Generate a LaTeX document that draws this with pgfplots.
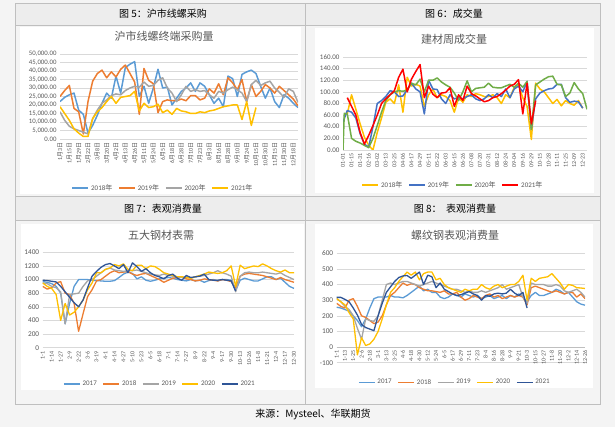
\documentclass[border=0pt]{standalone}
\usepackage{fontspec}
\setmainfont{Carlito}
\newfontfamily\cjk{Noto Sans CJK SC}
\usepackage{pgfplots}
\pgfplotsset{compat=1.18}

\definecolor{bgc}{HTML}{F4F4F4}
\definecolor{hdc}{HTML}{EDEDED}
\definecolor{frc}{HTML}{BFBFBF}
\definecolor{gridc}{HTML}{D9D9D9}
\definecolor{labc}{HTML}{595959}
\definecolor{cblue}{HTML}{5B9BD5}
\definecolor{corange}{HTML}{ED7D31}
\definecolor{cgrey}{HTML}{A5A5A5}
\definecolor{cgold}{HTML}{FFC000}
\definecolor{cblueb}{HTML}{4472C4}
\definecolor{cgreen}{HTML}{70AD47}
\definecolor{cred}{HTML}{FF0000}
\definecolor{cdark}{HTML}{2F5597}

\newcommand\md[2]{#1{\cjk 月}#2{\cjk 日}}

\pgfplotsset{
  exl/.style={
    scale only axis,
    anchor=south west,
    axis line style={draw=none},
    tick style={draw=none},
    scaled ticks=false,
    ymajorgrids,
    grid style={draw=gridc, line width=0.5pt},
    y tick label style={font=\fontsize{7}{8}\selectfont, text=labc},
    x tick label style={font=\fontsize{6}{7}\selectfont, text=labc, rotate=90, anchor=east},
    legend style={draw=none, fill=none, font=\fontsize{7}{8}\selectfont, text=labc,
      legend columns=-1, anchor=center,
      /tikz/every even column/.append style={column sep=4pt}},
    legend image code/.code={\draw[##1] (0pt,0pt) -- (16pt,0pt);},
    every axis plot/.append style={line width=1.3pt, line join=round, mark=none},
  }
}

\begin{document}
\begin{tikzpicture}
\begin{scope}[x=1pt,y=1pt]
% page and frames
\fill[bgc] (0,0) rectangle (615,-427);
\filldraw[fill=hdc, draw=frc, line width=0.6pt] (15,-3) rectangle (305,-25);
\filldraw[fill=hdc, draw=frc, line width=0.6pt] (305,-3) rectangle (600,-25);
\filldraw[fill=hdc, draw=frc, line width=0.6pt] (15,-196) rectangle (305,-220);
\filldraw[fill=hdc, draw=frc, line width=0.6pt] (305,-196) rectangle (600,-220);
\draw[frc, line width=0.6pt] (15,-25) rectangle (305,-196);
\draw[frc, line width=0.6pt] (305,-25) rectangle (600,-196);
\draw[frc, line width=0.6pt] (15,-220) rectangle (305,-404);
\draw[frc, line width=0.6pt] (305,-220) rectangle (600,-404);
\fill[white] (20,-27) rectangle (301,-194);
\fill[white] (315,-28) rectangle (594,-193);
\fill[white] (21,-224) rectangle (304,-390);
\fill[white] (315,-224) rectangle (593,-388);

\begin{scope}[font=\cjk\fontsize{10}{12}\selectfont]
\node at (163,-14) {图 5：沪市线螺采购};
\node at (454,-14) {图 6：成交量};
\node at (163,-209) {图 7：表观消费量};
\node at (455,-209) {图 8：\ \ 表观消费量};
\node at (313,-414) {来源：Mysteel、华联期货};
\end{scope}
\begin{scope}[font=\cjk\fontsize{11}{13}\selectfont, text=labc]
\node at (164,-36) {沪市线螺终端采购量};
\node at (454,-39) {建材周成交量};
\node at (161,-235) {五大钢材表需};
\node at (455,-235) {螺纹钢表观消费量};
\end{scope}
\end{scope}

% ---------- chart 5 ----------
\begin{axis}[exl, at={(60pt,-139pt)}, width=238pt, height=85pt,
  xmin=0, xmax=51, ymin=0, ymax=50000,
  ytick={0,5000,...,50000},
  yticklabels={{0.00},{5,000.00},{10,000.00},{15,000.00},{20,000.00},{25,000.00},{30,000.00},{35,000.00},{40,000.00},{45,000.00},{50,000.00}},
  y tick label style={font=\fontsize{6.8}{8}\selectfont},
  xtick={0,2,...,50},
  xticklabels={\md{1}{3},\md{1}{15},\md{1}{29},\md{2}{22},\md{3}{8},\md{3}{20},\md{4}{2},\md{4}{13},\md{4}{26},\md{5}{11},\md{5}{24},\md{6}{5},\md{6}{18},\md{6}{28},\md{7}{10},\md{7}{23},\md{8}{3},\md{8}{16},\md{8}{28},\md{9}{10},\md{9}{24},\md{10}{15},\md{10}{30},\md{11}{15},\md{11}{30},\md{12}{18}},
  legend style={at={(0.433,-0.576)}},
  every axis plot/.append style={line width=1.5pt}]
\addplot[cblue] coordinates {(0,22000)(1,24500)(2,26000)(3,27000)(4,17000)(5,14500)(6,3500)(7,8000)(8,14000)(9,21000)(10,27000)(11,24000)(12,37000)(13,27000)(14,42000)(15,44000)(16,45500)(17,25000)(18,31000)(19,21000)(20,30000)(21,41000)(22,30000)(23,30500)(24,20000)(25,24000)(26,28000)(27,30000)(28,33000)(29,28000)(30,33000)(31,31000)(32,26000)(33,21000)(34,24000)(35,19000)(36,37000)(37,35500)(38,25000)(39,38000)(40,39500)(41,40500)(42,38500)(43,31000)(44,24000)(45,30000)(46,22000)(47,18500)(48,26000)(49,24000)(50,21000)(51,18500)};
\addlegendentry{2018{\cjk 年}}
\addplot[corange] coordinates {(0,25000)(1,28500)(2,31500)(3,18000)(4,16000)(5,3000)(6,22000)(7,34000)(8,38500)(9,40500)(10,36000)(11,39500)(12,36500)(13,41000)(14,43500)(15,38500)(16,33500)(17,14500)(18,41500)(19,34500)(20,32500)(21,15500)(22,22000)(23,23000)(24,22500)(25,22500)(26,23500)(27,22500)(28,25500)(29,25500)(30,23000)(31,24000)(32,29500)(33,27000)(34,32500)(35,26000)(36,36000)(37,33000)(38,29000)(39,35000)(40,22000)(41,32000)(42,25000)(43,28000)(44,32000)(45,30000)(46,27000)(47,31000)(48,28500)(49,26000)(50,23500)(51,19500)};
\addlegendentry{2019{\cjk 年}}
\addplot[cgrey] coordinates {(0,16000)(1,11000)(2,7500)(3,6000)(4,5000)(5,4000)(6,3000)(7,12000)(8,17000)(9,21000)(10,23000)(11,25500)(12,26500)(13,26000)(14,28500)(15,30000)(16,31000)(17,30500)(18,33500)(19,31000)(20,31500)(21,34500)(22,36000)(23,30000)(24,27000)(25,22000)(26,26000)(27,31000)(28,28000)(29,29000)(30,28000)(31,28500)(32,26000)(33,24000)(34,28000)(35,27000)(36,29000)(37,30500)(38,29000)(39,27000)(40,22000)(41,32000)(42,34500)(43,31500)(44,33000)(45,34000)(46,30000)(47,27500)(48,24500)(49,29500)(50,28000)(51,21500)};
\addlegendentry{2020{\cjk 年}}
\addplot[cgold] coordinates {(0,19000)(1,15000)(2,11000)(3,6000)(4,3500)(5,1500)(6,1500)(7,12000)(8,16000)(9,18500)(10,22000)(11,25000)(12,21000)(13,24500)(14,25000)(15,25500)(16,28000)(17,16500)(18,21000)(19,18500)(20,19000)(21,20500)(22,15500)(23,17000)(24,14500)(25,18000)(26,16500)(27,16000)(28,15000)(29,15000)(30,16000)(31,15500)(32,16500)(33,17000)(34,18000)(35,19000)(36,19500)(37,20000)(38,20000)(39,11500)(40,22000)(41,8000)(42,18500)};
\addlegendentry{2021{\cjk 年}}
\end{axis}

% ---------- chart 6 ----------
\begin{axis}[exl, at={(343pt,-150pt)}, width=244pt, height=93pt,
  xmin=0, xmax=57, ymin=0, ymax=160,
  ytick={0,20,...,160},
  yticklabels={0.00,20.00,40.00,60.00,80.00,100.00,120.00,140.00,160.00},
  xtick={0,2,...,56},
  xticklabels={01-01,01-15,01-31,02-16,03-02,03-13,03-25,04-06,04-17,04-29,05-11,05-22,06-03,06-15,06-26,07-08,07-20,07-31,08-12,08-24,09-04,09-16,09-29,10-15,10-28,11-11,11-25,12-09,12-23},
  legend style={at={(0.451,-0.376)}},
  every axis plot/.append style={line width=1.5pt}]
\addplot[cgold] coordinates {(1,62)(2,95)(3,70)(4,45)(5,22)(6,8)(7,0)(8,30)(9,55)(10,82)(11,88)(12,80)(13,112)(14,65)(15,125)(16,110)(17,113)(18,110)(19,75)(20,95)(21,105)(22,90)(23,95)(24,92)(25,85)(26,65)(27,90)(28,82)(29,95)(30,92)(31,97)(32,95)(33,92)(34,92)(35,95)(36,90)(37,80)(38,95)(39,90)(40,108)(41,112)(42,90)(43,75)(44,18)(45,115)(46,105)(47,100)(48,90)(49,80)(50,87)(51,76)(52,85)(53,80)(54,77)(55,85)(56,72)};
\addlegendentry{2018{\cjk 年}}
\addplot[cblueb] coordinates {(0,48)(1,68)(2,65)(3,55)(4,28)(5,10)(6,5)(7,40)(8,80)(9,85)(10,92)(11,102)(12,100)(13,92)(14,93)(15,104)(16,115)(17,105)(18,100)(19,62)(20,120)(21,105)(22,104)(23,88)(24,80)(25,95)(26,88)(27,90)(28,88)(29,92)(30,95)(31,88)(32,85)(33,88)(34,95)(35,90)(36,97)(37,92)(38,105)(39,90)(40,105)(41,110)(42,100)(43,118)(44,36)(45,88)(46,98)(47,102)(48,105)(49,106)(50,113)(51,113)(52,90)(53,82)(54,84)(55,83)(56,72)};
\addlegendentry{2019{\cjk 年}}
\addplot[cgreen] coordinates {(0,0)(0.3,63)(1,62)(2,20)(3,15)(4,12)(5,8)(6,4)(7,20)(8,42)(9,65)(10,85)(11,95)(12,100)(13,102)(14,101)(15,103)(16,115)(17,112)(18,122)(19,100)(20,120)(21,120)(22,124)(23,117)(24,112)(25,108)(26,98)(27,85)(28,100)(29,119)(30,100)(31,106)(32,107)(33,108)(34,115)(35,108)(36,107)(37,107)(38,110)(39,113)(40,108)(41,115)(42,108)(43,118)(44,35)(45,112)(46,117)(47,122)(48,126)(49,127)(50,113)(51,112)(52,92)(53,98)(54,116)(55,105)(56,97)(57,70)};
\addlegendentry{2020{\cjk 年}}
\addplot[cred] coordinates {(1,90)(2,75)(3,60)(4,30)(5,10)(6,25)(7,42)(8,60)(9,80)(10,88)(11,95)(12,102)(13,125)(14,139)(15,100)(16,122)(17,135)(18,147)(19,90)(20,110)(21,96)(22,90)(23,98)(24,99)(25,107)(26,75)(27,95)(28,85)(29,110)(30,97)(31,93)(32,88)(33,83)(34,85)(35,90)(36,92)(37,97)(38,103)(39,110)(40,113)(41,121)(42,62)(43,115)(44,45)(45,85)};
\addlegendentry{2021{\cjk 年}}
\end{axis}

% ---------- chart 7 ----------
\begin{axis}[exl, at={(42.7pt,-347.7pt)}, width=251.3pt, height=95.4pt,
  xmin=0, xmax=56, ymin=0, ymax=1400,
  ytick={0,200,...,1400},
  yticklabels={0,200,400,600,800,1000,1200,1400},
  y tick label style={font=\fontsize{7.3}{8}\selectfont},
  xtick={0,2,...,56},
  xticklabels={1-1,1-14,1-27,2-9,2-22,3-6,3-19,4-1,4-14,4-27,5-10,5-23,6-5,6-18,7-1,7-14,7-27,8-9,8-22,9-4,9-17,9-30,10-13,10-26,11-8,11-21,12-4,12-17,12-30},
  legend style={at={(0.467,-0.38)}}]
\addplot[cblue] coordinates {(0,970)(1,960)(2,940)(3,900)(4,800)(5,350)(6,650)(7,900)(8,1000)(9,1000)(10,1000)(11,990)(12,985)(13,980)(14,975)(15,975)(16,985)(17,1030)(18,1080)(19,1110)(20,1090)(21,1010)(22,1040)(23,990)(24,975)(25,990)(26,1010)(27,1020)(28,1030)(29,1020)(30,1000)(31,990)(32,980)(33,1000)(34,980)(35,990)(36,960)(37,985)(38,1000)(39,980)(40,1000)(41,1000)(42,990)(43,840)(44,990)(45,1020)(46,1000)(47,980)(48,980)(49,1010)(50,1040)(51,1040)(52,1000)(53,1020)(54,960)(55,900)(56,870)};
\addlegendentry{2017}
\addplot[corange] coordinates {(0,900)(1,860)(2,880)(3,950)(4,970)(5,800)(6,780)(7,650)(8,240)(9,500)(10,750)(11,850)(12,980)(13,1000)(14,1050)(15,1100)(16,1130)(17,1100)(18,1110)(19,1120)(20,1080)(21,1060)(22,1080)(23,1090)(24,1060)(25,1030)(26,1000)(27,960)(28,990)(29,1020)(30,1030)(31,1040)(32,1010)(33,1000)(34,980)(35,990)(36,1010)(37,1000)(38,990)(39,980)(40,1000)(41,990)(42,970)(43,880)(44,1050)(45,1080)(46,1090)(47,1080)(48,1070)(49,1060)(50,1040)(51,1020)(52,1000)(53,1030)(54,1000)(55,980)(56,960)};
\addlegendentry{2018}
\addplot[cgrey] coordinates {(0,950)(1,940)(2,900)(3,880)(4,820)(5,350)(6,780)(7,790)(8,800)(9,900)(10,980)(11,1000)(12,1050)(13,1100)(14,1150)(15,1170)(16,1140)(17,1130)(18,1120)(19,1130)(20,1130)(21,1140)(22,1120)(23,1100)(24,1080)(25,1070)(26,1060)(27,1080)(28,1060)(29,1050)(30,1040)(31,1030)(32,1040)(33,1020)(34,1040)(35,1050)(36,1060)(37,1080)(38,1100)(39,1130)(40,1100)(41,1080)(42,1050)(43,820)(44,1050)(45,1100)(46,1110)(47,1100)(48,1100)(49,1110)(50,1100)(51,1090)(52,1080)(53,1100)(54,1060)(55,1030)(56,1000)};
\addlegendentry{2019}
\addplot[cgold] coordinates {(0,950)(1,900)(2,870)(3,780)(4,400)(5,650)(6,480)(7,520)(8,600)(9,700)(10,850)(11,950)(12,1100)(13,1100)(14,1150)(15,1170)(16,1220)(17,1200)(18,1230)(19,1150)(20,1130)(21,1210)(22,1210)(23,1160)(24,1200)(25,1190)(26,1150)(27,1100)(28,1080)(29,1060)(30,1040)(31,1040)(32,1030)(33,1020)(34,1040)(35,1060)(36,1080)(37,1110)(38,1100)(39,1090)(40,1100)(41,1130)(42,1200)(43,900)(44,1210)(45,1160)(46,1180)(47,1200)(48,1190)(49,1230)(50,1200)(51,1160)(52,1130)(53,1110)(54,1140)(55,1100)(56,1100)};
\addlegendentry{2020}
\addplot[cdark] coordinates {(0,990)(1,985)(2,975)(3,965)(4,900)(5,820)(6,740)(7,660)(8,600)(9,700)(10,880)(11,1050)(12,1120)(13,1180)(14,1220)(15,1235)(16,1200)(17,1160)(18,1220)(19,1100)(20,1245)(21,1190)(22,1120)(23,1160)(24,1100)(25,1060)(26,1040)(27,1010)(28,1060)(29,1080)(30,1020)(31,990)(32,1060)(33,1030)(34,1040)(35,1050)(36,1080)(37,1000)(38,990)(39,990)(40,1000)(41,990)(42,980)(43,830)};
\addlegendentry{2021}
\end{axis}

% ---------- chart 8 ----------
\begin{axis}[exl, at={(336.7pt,-362.7pt)}, width=248.3pt, height=109.4pt,
  xmin=0, xmax=60, ymin=-100, ymax=600,
  ytick={-100,0,...,600},
  yticklabels={-100,0,100,200,300,400,500,600},
  y tick label style={font=\fontsize{7.3}{8}\selectfont},
  extra y ticks={0}, extra y tick labels={},
  extra y tick style={grid style={draw=frc, line width=0.6pt}},
  xtick={0,2,...,60},
  xticklabel shift=-15.6pt,
  xticklabels={1-1,1-13,1-25,2-6,2-18,3-1,3-13,3-25,4-6,4-18,4-30,5-12,5-24,6-5,6-17,6-29,7-11,7-23,8-4,8-16,8-28,9-9,9-21,10-3,10-15,10-27,11-8,11-20,12-2,12-14,12-26},
  legend style={at={(0.476,-0.18)}}]
\addplot[cblue] coordinates {(0,255)(1,250)(2,240)(3,230)(4,200)(5,170)(6,130)(7,180)(8,250)(9,310)(10,320)(11,320)(12,320)(13,330)(14,320)(15,320)(16,315)(17,330)(18,350)(19,370)(20,390)(21,360)(22,370)(23,350)(24,350)(25,320)(26,310)(27,320)(28,340)(29,330)(30,320)(31,340)(32,330)(33,320)(34,330)(35,310)(36,320)(37,330)(38,310)(39,320)(40,330)(41,310)(42,330)(43,320)(44,340)(45,320)(46,290)(47,330)(48,350)(49,330)(50,330)(51,340)(52,350)(53,370)(54,360)(55,340)(56,350)(57,320)(58,290)(59,275)(60,268)};
\addlegendentry{2017}
\addplot[corange] coordinates {(0,280)(1,260)(2,250)(3,300)(4,310)(5,260)(6,200)(7,190)(8,170)(9,150)(10,160)(11,200)(12,270)(13,330)(14,350)(15,380)(16,410)(17,395)(18,405)(19,400)(20,380)(21,370)(22,360)(23,360)(24,355)(25,350)(26,360)(27,340)(28,340)(29,350)(30,320)(31,300)(32,310)(33,330)(34,320)(35,310)(36,330)(37,340)(38,320)(39,330)(40,310)(41,320)(42,330)(43,320)(44,330)(45,320)(46,270)(47,380)(48,390)(49,380)(50,370)(51,360)(52,350)(53,360)(54,350)(55,340)(56,350)(57,350)(58,320)(59,340)(60,310)};
\addlegendentry{2018}
\addplot[cgrey] coordinates {(0,310)(1,290)(2,260)(3,240)(4,200)(5,120)(6,50)(7,180)(8,170)(9,165)(10,200)(11,300)(12,400)(13,410)(14,400)(15,410)(16,420)(17,420)(18,410)(19,400)(20,390)(21,400)(22,410)(23,420)(24,410)(25,400)(26,390)(27,380)(28,370)(29,370)(30,360)(31,350)(32,360)(33,350)(34,350)(35,360)(36,350)(37,360)(38,370)(39,380)(40,400)(41,370)(42,380)(43,390)(44,400)(45,320)(46,280)(47,410)(48,400)(49,400)(50,400)(51,390)(52,390)(53,400)(54,390)(55,360)(56,350)(57,360)(58,370)(59,350)(60,320)};
\addlegendentry{2019}
\addplot[cgold] coordinates {(0,310)(1,290)(2,270)(3,220)(4,180)(5,-50)(6,60)(7,10)(8,20)(9,50)(10,100)(11,180)(12,270)(13,350)(14,380)(15,420)(16,450)(17,480)(18,460)(19,480)(20,430)(21,470)(22,480)(23,480)(24,430)(25,440)(26,400)(27,380)(28,370)(29,360)(30,350)(31,370)(32,360)(33,370)(34,370)(35,400)(36,380)(37,370)(38,390)(39,400)(40,380)(41,390)(42,400)(43,400)(44,420)(45,460)(46,300)(47,440)(48,420)(49,440)(50,445)(51,450)(52,470)(53,440)(54,410)(55,370)(56,400)(57,395)(58,380)(59,378)(60,375)};
\addlegendentry{2020}
\addplot[cdark] coordinates {(0,318)(1,318)(2,305)(3,290)(4,250)(5,205)(6,145)(7,125)(8,115)(9,105)(10,200)(11,280)(12,350)(13,385)(14,420)(15,445)(16,455)(17,458)(18,440)(19,460)(20,480)(21,400)(22,460)(23,450)(24,380)(25,410)(26,370)(27,355)(28,340)(29,330)(30,335)(31,345)(32,355)(33,340)(34,330)(35,300)(36,330)(37,325)(38,340)(39,345)(40,340)(41,345)(42,370)(43,345)(44,330)(45,350)(46,250)};
\addlegendentry{2021}
\end{axis}
\end{tikzpicture}
\end{document}
